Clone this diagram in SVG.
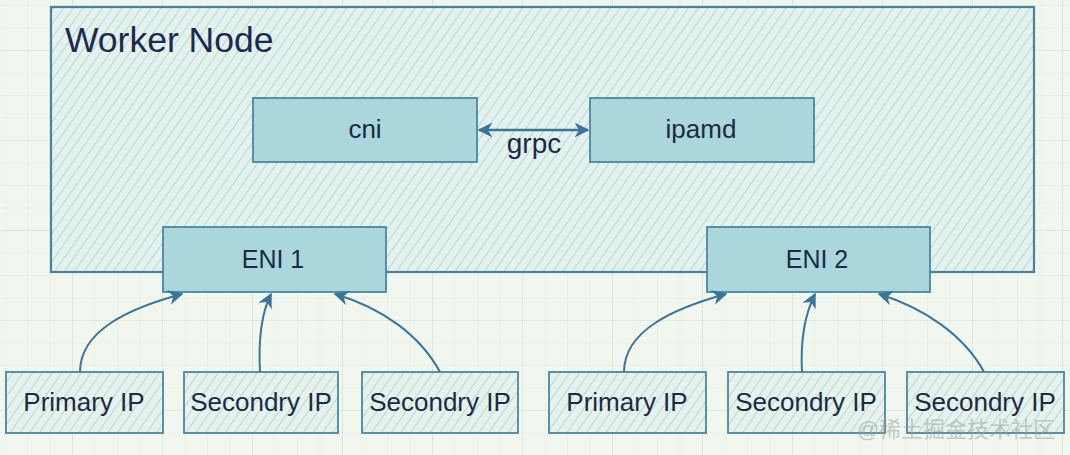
<svg xmlns="http://www.w3.org/2000/svg" width="1070" height="455" viewBox="0 0 1070 455">
  <defs>
    <pattern id="gridMinor" x="-18" y="-40" width="22.5" height="22.5" patternUnits="userSpaceOnUse">
      <path d="M0,0 V22.5 M0,0 H22.5" fill="none" stroke="#e2ebdf" stroke-width="1"/>
    </pattern>
    <pattern id="gridMajor" x="-18" y="-40" width="90" height="90" patternUnits="userSpaceOnUse">
      <path d="M0,0 V90 M0,0 H90" fill="none" stroke="#d3dfd1" stroke-width="1.2"/>
    </pattern>
    <pattern id="hatch" width="8" height="8" patternUnits="userSpaceOnUse" patternTransform="rotate(35)">
      <line x1="0" y1="0" x2="0" y2="8" stroke="#a2c2ba" stroke-width="1.2"/>
    </pattern>
    <marker id="arrBig" viewBox="0 0 10 10" refX="9" refY="5" markerWidth="15" markerHeight="15" orient="auto-start-reverse" markerUnits="userSpaceOnUse">
      <path d="M0,0 L10,5 L0,10 L3,5 z" fill="#3b7599"/>
    </marker>
  </defs>
  <style>
    .lbl { font-family: "Liberation Sans", Arial, sans-serif; fill: #1c2a45; text-anchor: middle; }
    .solid { fill: #a9d7dc; stroke: #4b87a2; stroke-width: 1.8; }
    .hat { fill: url(#hatch); stroke: #4b87a2; stroke-width: 1.8; }
    .conn { fill: none; stroke: #3b7599; stroke-width: 2; marker-end: url(#arrBig); }
  </style>

  <rect x="0" y="0" width="1070" height="455" fill="#f1f7ee"/>
  <rect x="0" y="0" width="1070" height="455" fill="url(#gridMinor)"/>
  <rect x="0" y="0" width="1070" height="455" fill="url(#gridMajor)"/>

  <g id="worker-node">
    <rect x="51" y="7" width="983" height="265" fill="#e3f2ee"/>
    <rect x="51" y="7" width="983" height="265" fill="url(#hatch)" stroke="#4b80a0" stroke-width="2.2"/>
    <text x="65" y="52" font-family="Liberation Sans, Arial, sans-serif" font-size="35.5" fill="#1c2a4f">Worker Node</text>
  </g>

  <g id="cni">
    <rect class="solid" x="253" y="98" width="224" height="64"/>
    <text class="lbl" x="365" y="138" font-size="26">cni</text>
  </g>
  <g id="ipamd">
    <rect class="solid" x="590" y="98" width="224" height="64"/>
    <text class="lbl" x="701" y="138" font-size="26">ipamd</text>
  </g>

  <g id="eni1">
    <rect class="solid" x="163" y="227" width="223" height="65"/>
    <text class="lbl" x="273" y="268" font-size="25">ENI 1</text>
  </g>
  <g id="eni2">
    <rect class="solid" x="707" y="227" width="223" height="65"/>
    <text class="lbl" x="817" y="268" font-size="25">ENI 2</text>
  </g>

  <g id="ip-primary-1">
    <rect x="6" y="372" width="157" height="61" fill="#e6f2ed"/>
    <rect class="hat" x="6" y="372" width="157" height="61"/>
    <text class="lbl" x="84" y="411" font-size="26">Primary IP</text>
  </g>
  <g id="ip-secondary-1a">
    <rect x="184" y="372" width="154" height="61" fill="#e6f2ed"/>
    <rect class="hat" x="184" y="372" width="154" height="61"/>
    <text class="lbl" x="261" y="411" font-size="26">Secondry IP</text>
  </g>
  <g id="ip-secondary-1b">
    <rect x="362" y="372" width="156" height="61" fill="#e6f2ed"/>
    <rect class="hat" x="362" y="372" width="156" height="61"/>
    <text class="lbl" x="440" y="411" font-size="26">Secondry IP</text>
  </g>
  <g id="ip-primary-2">
    <rect x="549" y="372" width="157" height="61" fill="#e6f2ed"/>
    <rect class="hat" x="549" y="372" width="157" height="61"/>
    <text class="lbl" x="627" y="411" font-size="26">Primary IP</text>
  </g>
  <g id="ip-secondary-2a">
    <rect x="728" y="372" width="157" height="61" fill="#e6f2ed"/>
    <rect class="hat" x="728" y="372" width="157" height="61"/>
    <text class="lbl" x="806" y="411" font-size="26">Secondry IP</text>
  </g>
  <g id="ip-secondary-2b">
    <rect x="907" y="372" width="157" height="61" fill="#e6f2ed"/>
    <rect class="hat" x="907" y="372" width="157" height="61"/>
    <text class="lbl" x="985" y="411" font-size="26">Secondry IP</text>
  </g>

  <g id="connectors">
    <line x1="479" y1="130" x2="588" y2="130" stroke="#3b7599" stroke-width="2.5" marker-start="url(#arrBig)" marker-end="url(#arrBig)"/>
    <text class="lbl" x="534" y="153" font-size="28">grpc</text>
    <path class="conn" d="M80,372 C80,330 130,308 182,294"/>
    <path class="conn" d="M260,372 C258,335 262,312 271,294"/>
    <path class="conn" d="M440,372 C420,335 382,308 335,294"/>
    <path class="conn" d="M624,372 C624,330 675,308 726,294"/>
    <path class="conn" d="M802,372 C800,335 806,312 815,294"/>
    <path class="conn" d="M984,372 C964,335 924,308 879,294"/>
  </g>

  <text x="1055" y="437" text-anchor="end" font-family="Liberation Sans, 'Noto Sans CJK SC', sans-serif" font-size="22" fill="#9aa3a0" fill-opacity="0.55">@稀土掘金技术社区</text>
</svg>
